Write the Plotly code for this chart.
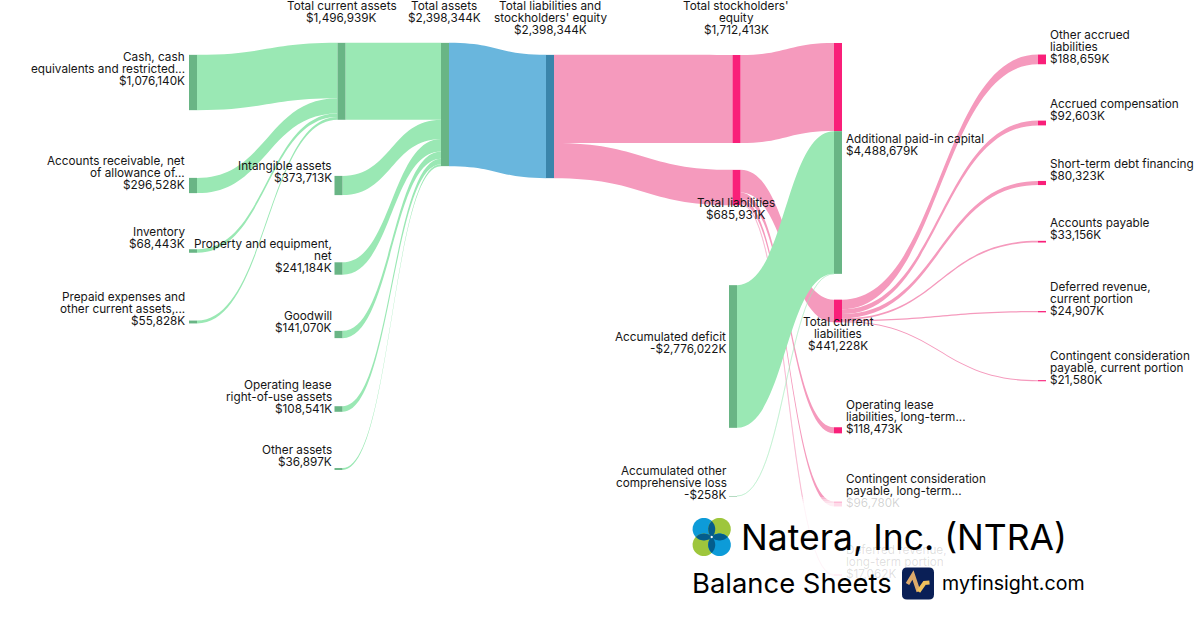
import numpy as np
import plotly.graph_objects as go

W, H = 1200, 630

# ---------- data ----------
node_names = [
    "Cash, cash equivalents and restricted", "Accounts receivable, net", "Inventory", "Prepaid expenses",
    "Total current assets", "Intangible assets", "Property and equipment, net", "Goodwill",
    "Operating lease right-of-use assets", "Other assets", "Total assets",
    "Total liabilities and stockholders' equity", "Total stockholders' equity", "Total liabilities",
    "Additional paid-in capital (equity part)", "Additional paid-in capital (deficit part)",
    "Accumulated deficit", "Accumulated other comprehensive loss", "Total current liabilities",
    "Operating lease liabilities, long-term", "Contingent consideration payable, long-term",
    "Deferred revenue, long-term portion", "Other accrued liabilities", "Accrued compensation",
    "Short-term debt financing", "Accounts payable", "Deferred revenue, current portion",
    "Contingent consideration payable, current portion",
]
link_sources = [13, 13, 13, 13, 18, 18, 18, 18, 18, 18, 12, 11, 11, 10, 0, 1, 2, 3, 4, 5, 6, 7, 8, 9, 16, 17]
link_targets = [18, 19, 20, 21, 22, 23, 24, 25, 26, 27, 14, 12, 13, 11, 4, 4, 4, 4, 10, 10, 10, 10, 10, 10, 15, 15]
link_values = [441228, 118473, 96780, 17062, 188659, 92603, 80323, 33156, 24907, 21580, 1712413,
               1712413, 685931, 2398344, 1076140, 296528, 68443, 55828, 1496939, 373713, 241184,
               141070, 108541, 36897, 2776022, 258]
link_kinds = ["l", "l", "l", "lf", "l", "l", "l", "l", "l", "l", "l", "l", "l", "b",
              "a", "a", "a", "a", "a", "a", "a", "a", "a", "a", "a", "af"]
node_kinds = ["a", "a", "a", "a", "a", "a", "a", "a", "a", "a", "a", "b", "l", "l", "l", "a", "a", "a",
              "l", "l", "l", "l", "l", "l", "l", "l", "l", "l"]

# label text: lines, anchor x, first-line y, alignment, text opacity
label_lines = [
    (["Cash, cash", "equivalents and restricted...", "$1,076,140K"], 185.5, 56.5, "right", 1),
    (["Accounts receivable, net", "of allowance of...", "$296,528K"], 185.5, 161, "right", 1),
    (["Inventory", "$68,443K"], 185.5, 232, "right", 1),
    (["Prepaid expenses and", "other current assets,...", "$55,828K"], 185.5, 297, "right", 1),
    (["Total current assets", "$1,496,939K"], 342, 6, "center", 1),
    (["Intangible assets", "$373,713K"], 332.5, 166, "right", 1),
    (["Property and equipment,", "net", "$241,184K"], 332.5, 244, "right", 1),
    (["Goodwill", "$141,070K"], 332.5, 316, "right", 1),
    (["Operating lease", "right-of-use assets", "$108,541K"], 332.5, 385, "right", 1),
    (["Other assets", "$36,897K"], 332.5, 450, "right", 1),
    (["Total assets", "$2,398,344K"], 444, 6, "center", 1),
    (["Total liabilities and", "stockholders' equity", "$2,398,344K"], 550, 6, "center", 1),
    (["Total stockholders'", "equity", "$1,712,413K"], 736, 6, "center", 1),
    (["Total liabilities", "$685,931K"], 736, 203, "center", 1),
    (["Additional paid-in capital", "$4,488,679K"], 844.5, 139, "left", 1),
    (["Accumulated deficit", "-$2,776,022K"], 727, 337, "right", 1),
    (["Accumulated other", "comprehensive loss", "-$258K"], 728, 471, "right", 1),
    (["Total current", "liabilities", "$441,228K"], 838, 322, "center", 1),
    (["Operating lease", "liabilities, long-term...", "$118,473K"], 844.5, 405, "left", 1),
    (["Contingent consideration", "payable, long-term..."], 844.5, 479, "left", 1),
    (["$96,780K"], 844.5, 503, "left", 0.2),
    (["Deferred revenue,", "long-term portion", "$17,062K"], 844.5, 550, "left", 0.15),
    (["Other accrued", "liabilities", "$188,659K"], 1048.5, 35, "left", 1),
    (["Accrued compensation", "$92,603K"], 1048.5, 104, "left", 1),
    (["Short-term debt financing", "$80,323K"], 1048.5, 164, "left", 1),
    (["Accounts payable", "$33,156K"], 1048.5, 223, "left", 1),
    (["Deferred revenue,", "current portion", "$24,907K"], 1048.5, 287, "left", 1),
    (["Contingent consideration", "payable, current portion", "$21,580K"], 1048.5, 356, "left", 1),
]

# ---------- layout of nodes (centre, in pixels) ----------
node_cx = [193, 193, 193, 193, 341.5, 338.5, 338.5, 338.5, 338.5, 338.5, 445, 550, 736.5, 736.5,
           838, 838, 733, 733, 838, 838, 838, 838, 1042, 1042, 1042, 1042, 1042, 1042]
node_cy = [82.5, 185.5, 251, 322, 81.3, 185.5, 268.5, 334.5, 409, 469, 104.5, 116.5, 99, 187.5,
           87, 202.5, 356.5, 496, 311, 430.3, 504, 575, 59.4, 123, 183, 241.7, 311.7, 380.7]

COLORS_NODE = {"a": "#69B585", "b": "#3A85AB", "l": "#F91F79"}
COLORS_LINK = {"a": "#9AE8B4", "b": "#69B6DD", "l": "#F59ABD",
               "af": "rgba(154,232,180,0.35)", "lf": "rgba(245,154,189,0.4)"}

# px per value: fixed through the padding of the fullest column
KY = 5.14e-5
column0 = sum(v for s, v in zip(link_sources, link_values)
              if s not in set(link_targets))
node_pad = (H - KY * column0) / 10

FONT = "Inter, 'Noto Sans', sans-serif"

fig = go.Figure(go.Sankey(
    arrangement="fixed",
    node=dict(
        thickness=8, pad=node_pad, label=[""] * len(node_names), customdata=node_names,
        hovertemplate="%{customdata}<br>%{value:,.0f}K<extra></extra>",
        x=[c / W for c in node_cx], y=[c / H for c in node_cy],
        color=[COLORS_NODE[k] for k in node_kinds], line=dict(width=0),
    ),
    link=dict(
        source=link_sources, target=link_targets, value=link_values,
        color=[COLORS_LINK[k] for k in link_kinds],
    ),
))

anns = []
def text(s, px, py, anchor="left", size=11.75, color="#151515"):
    anns.append(dict(text=s, x=px / W, y=1 - py / H, xref="paper", yref="paper", xanchor=anchor,
                     yanchor="middle", showarrow=False, borderpad=0,
                     font=dict(family=FONT, size=size, color=color)))

for lines, px, py, anchor, alpha in label_lines:
    for i, s in enumerate(lines):
        text(s, px, py + i * 12, anchor, 11.75, f"rgba(21,21,21,{alpha})")

text("Natera, Inc. (NTRA)", 740, 537, "left", 35.5, "#000")
text("Balance Sheets", 691, 583, "left", 27.4, "#000")
text("myfinsight.com", 941, 583, "left", 19.6, "#000")

shapes = []
def X(p): return p / W
def Y(p): return 1 - p / H

def poly(points, fill=None, line=None, width=0, close=True):
    d = "M" + " L".join(f"{X(a):.5f},{Y(b):.5f}" for a, b in points) + (" Z" if close else "")
    shapes.append(dict(type="path", path=d, xref="paper", yref="paper", layer="above",
                       fillcolor=fill or "rgba(0,0,0,0)",
                       line=dict(color=line or "rgba(0,0,0,0)", width=width)))

# white veil over the bottom of the chart
for top, bottom, alpha in [(497, 499, 0.3), (499, 501, 0.55), (501, 503, 0.7), (503, 630, 0.84)]:
    shapes.append(dict(type="rect", x0=0, x1=1, y0=Y(bottom), y1=Y(top), xref="paper", yref="paper",
                       layer="above", fillcolor=f"rgba(255,255,255,{alpha})", line=dict(width=0)))

# Natera logo
def circle_pts(cx, cy, r, n=48):
    t = np.linspace(0, 2 * np.pi, n, endpoint=False)
    return list(zip(cx + r * np.cos(t), cy + r * np.sin(t)))

def lens_pts(c1, c2, r, n=16):
    (x1, y1), (x2, y2) = c1, c2
    dx, dy = x2 - x1, y2 - y1
    d = np.hypot(dx, dy)
    half = np.arccos(d / 2 / r)
    base1 = np.arctan2(dy, dx)
    a = [(x1 + r * np.cos(base1 + t), y1 + r * np.sin(base1 + t)) for t in np.linspace(-half, half, n)]
    b = [(x2 + r * np.cos(base1 + np.pi + t), y2 + r * np.sin(base1 + np.pi + t)) for t in np.linspace(-half, half, n)]
    return a + b

R = 11.3
C = [(703.9, 529.2), (719.5, 529.2), (703.9, 544.8), (719.5, 544.8)]
for c, col in zip(C, ["#0D9BD8", "#9EC63C", "#9EC63C", "#0D9BD8"]):
    poly(circle_pts(c[0], c[1], R), fill=col)
for a, b in [(0, 1), (2, 3), (0, 2), (1, 3)]:
    poly(lens_pts(C[a], C[b], R), fill="#045D8C")
poly(circle_pts(711.7, 537, 1.2, 12), fill="#FFFFFF")

# myfinsight logo
x0, y0, x1, y1, r = 902, 567.5, 934, 599.5, 5
d = (f"M{X(x0 + r):.5f},{Y(y0):.5f} L{X(x1 - r):.5f},{Y(y0):.5f} Q{X(x1):.5f},{Y(y0):.5f} {X(x1):.5f},{Y(y0 + r):.5f} "
     f"L{X(x1):.5f},{Y(y1 - r):.5f} Q{X(x1):.5f},{Y(y1):.5f} {X(x1 - r):.5f},{Y(y1):.5f} "
     f"L{X(x0 + r):.5f},{Y(y1):.5f} Q{X(x0):.5f},{Y(y1):.5f} {X(x0):.5f},{Y(y1 - r):.5f} "
     f"L{X(x0):.5f},{Y(y0 + r):.5f} Q{X(x0):.5f},{Y(y0):.5f} {X(x0 + r):.5f},{Y(y0):.5f} Z")
shapes.append(dict(type="path", path=d, xref="paper", yref="paper", layer="above",
                   fillcolor="#0A1F56", line=dict(width=0)))
poly([(907.5, 584), (913, 575), (918.5, 591.5)], line="#DDA96A", width=4, close=False)
poly([(918.5, 591.5), (924.5, 583), (929.5, 582.5)], line="#F2C25C", width=4, close=False)

fig.update_layout(width=W, height=H, margin=dict(l=0, r=0, t=0, b=0), paper_bgcolor="white",
                  plot_bgcolor="white", annotations=anns, shapes=shapes, font=dict(family=FONT))

fig.write_html("out.html", post_script="document.body.style.margin='0';document.body.style.overflow='hidden';",
               config={"displayModeBar": False})
